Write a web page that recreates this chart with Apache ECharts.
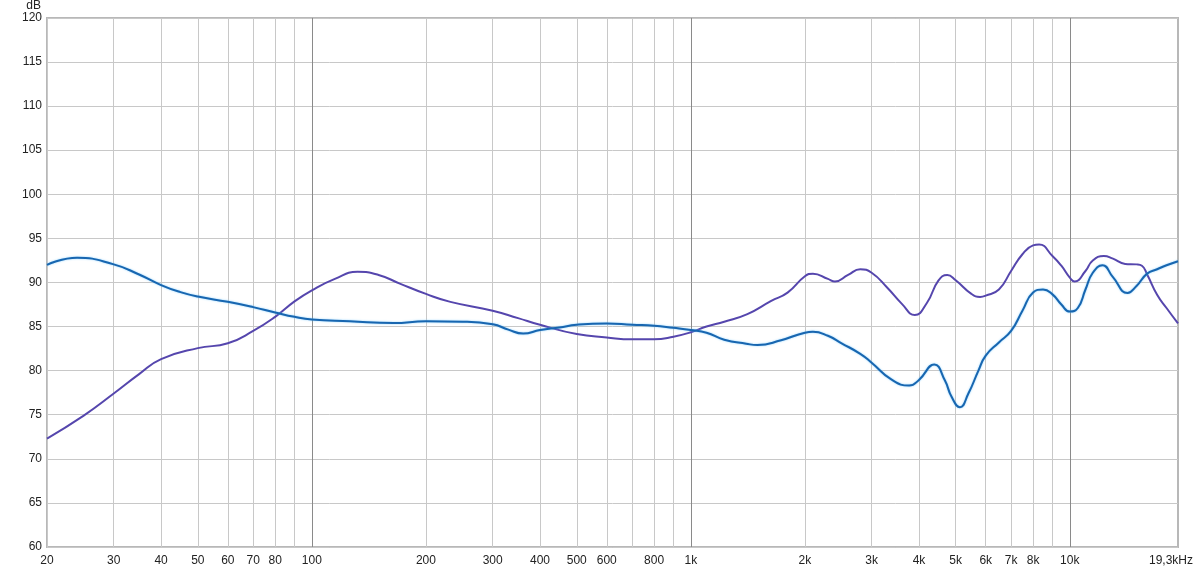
<!DOCTYPE html>
<html><head><meta charset="utf-8">
<script src="https://cdn.jsdelivr.net/npm/echarts@6/dist/echarts.min.js"></script>
<style>html,body{margin:0;padding:0;background:#fff}#c{width:1200px;height:568px}</style>
</head><body><div id="c"></div>
<script>
const blueFreq = [20,24,30,35,40,45,50,60,70,80,90,100,126,164,200,250,300,330,361,400,450,500,600,700,800,900,1000,1100,1225,1400,1500,1730,2000,2100,2300,2500,2800,3000,3380,3770,4000,4390,4680,4880,5130,5400,5740,6000,6500,7000,7500,8000,8500,9000,9500,10000,10500,11000,11500,12200,13000,14200,15000,16000,17000,18000,19300];
const blueDb = [92.0,92.8,92.05,90.9,89.7,88.9,88.4,87.8,87.2,86.6,86.1,85.8,85.6,85.4,85.6,85.55,85.25,84.65,84.2,84.6,84.9,85.2,85.35,85.2,85.1,84.85,84.6,84.3,83.5,83.05,82.9,83.45,84.3,84.4,83.95,83.1,81.9,80.9,79.0,78.3,78.95,80.7,78.9,77.0,75.85,77.4,80.0,81.7,83.2,84.5,86.8,88.85,89.2,88.65,87.5,86.7,87.1,89.2,91.1,91.95,90.6,88.8,89.6,91.0,91.5,91.95,92.4];
const purpleFreq = [20,25,30,35,40,50,60,70,80,90,100,115,132,150,170,200,232,300,350,400,500,600,700,800,900,1000,1100,1225,1410,1630,1800,2000,2100,2300,2400,2600,2800,3000,3300,3600,3900,4200,4500,4750,5000,5500,5800,6000,6500,7000,7500,8000,8300,9000,9500,10000,10300,11000,11500,12300,13000,14000,15000,15500,16000,17000,18000,19300];
const purpleDb = [72.3,74.9,77.4,79.6,81.3,82.55,83.1,84.5,86.1,87.85,89.1,90.4,91.2,90.85,89.9,88.7,87.8,86.8,85.95,85.2,84.15,83.76,83.55,83.55,83.85,84.35,85.0,85.55,86.4,87.9,88.85,90.7,91.0,90.4,90.1,90.85,91.5,91.1,89.4,87.6,86.3,87.7,90.2,90.85,90.25,88.7,88.36,88.5,89.2,91.3,93.2,94.2,94.3,93.0,91.9,90.55,90.1,91.3,92.5,93.0,92.7,92.1,92.05,91.9,90.9,88.6,87.1,85.35];
const gridFreqs = [20,30,40,50,60,70,80,90,100,200,300,400,500,600,700,800,900,1000,2000,3000,4000,5000,6000,7000,8000,9000,10000];
const decadeFreqs = [100,1000,10000];
const labelFreqs = [20,30,40,50,60,70,80,100,200,300,400,500,600,800,1000,2000,3000,4000,5000,6000,7000,8000,10000,19300];
const yMin = 60, yMax = 120, yStep = 5;

function fmtFreq(v) {
  const r = Math.round(v);
  if (r === 19300) return '{e|19,3kHz}';
  if (r >= 1000) return (r / 1000) + 'k';
  return String(r);
}
const pairs = (f, d) => f.map((x, i) => [x, d[i]]);
const font = 'Liberation Sans, Arial, sans-serif';

const chart = echarts.init(document.getElementById('c'), null, {renderer: 'canvas'});
chart.setOption({
  animation: false,
  backgroundColor: '#ffffff',
  grid: {left: 47, right: 22, top: 16, bottom: 21, show: true, borderColor: '#b8b8b8', borderWidth: 2, backgroundColor: '#ffffff'},
  xAxis: [{
    type: 'log', logBase: 10, min: 20, max: 19300,
    axisLine: {show: false},
    axisTick: {show: false, customValues: gridFreqs},
    splitLine: {show: true, lineStyle: {color: '#c8c8c8', width: 1}},
    axisLabel: {customValues: labelFreqs, formatter: fmtFreq, color: '#222', fontSize: 12, fontFamily: font, margin: 8,
      showMinLabel: true, showMaxLabel: true,
      rich: {e: {color: '#222', fontSize: 12, fontFamily: font, padding: [0, 14, 0, 0]}}}
  }],
  yAxis: {
    type: 'value', min: yMin, max: yMax, interval: yStep,
    name: 'dB', nameLocation: 'end', nameGap: 3,
    nameTextStyle: {color: '#222', fontSize: 12, fontFamily: font, align: 'right', verticalAlign: 'bottom', padding: [0, 6, 0, 0]},
    axisLine: {show: false}, axisTick: {show: false},
    splitLine: {show: true, lineStyle: {color: '#c8c8c8', width: 1}},
    axisLabel: {color: '#222', fontSize: 12, fontFamily: font, margin: 5}
  },
  series: [
    {
      type: 'line', name: 'purple', data: pairs(purpleFreq, purpleDb), smooth: 0.5, symbol: 'none',
      lineStyle: {color: '#5546ad', width: 2},
      markLine: {silent: true, symbol: 'none', z: 1, label: {show: false}, emphasis: {disabled: true},
        lineStyle: {color: '#8a8a8a', type: 'solid', width: 1},
        data: decadeFreqs.map(f => ({xAxis: f}))}
    },
    {
      type: 'line', name: 'blue', data: pairs(blueFreq, blueDb), smooth: 0.5, symbol: 'none',
      lineStyle: {color: '#1866b0', width: 2, shadowColor: 'rgba(90,190,255,0.7)', shadowBlur: 2}
    }
  ]
});
</script></body></html>
